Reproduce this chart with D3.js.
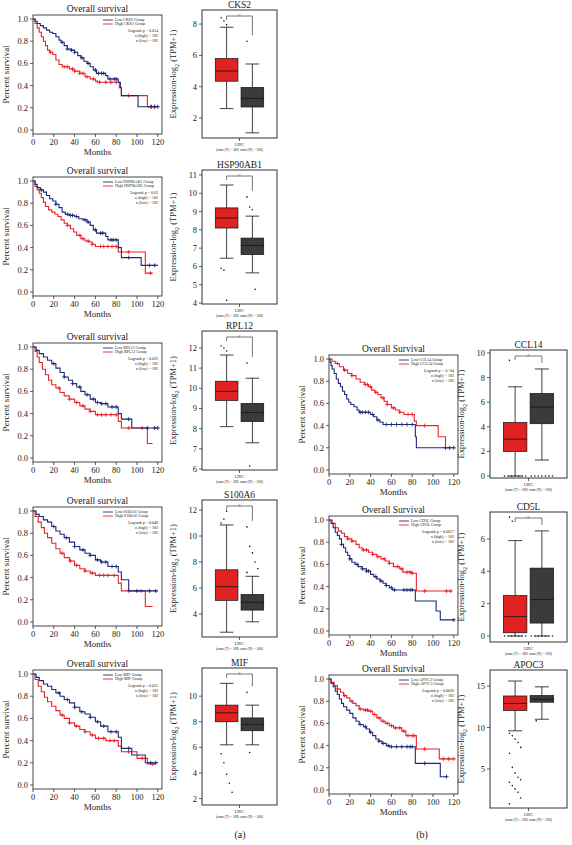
<!DOCTYPE html>
<html><head><meta charset="utf-8">
<script src="https://cdn.jsdelivr.net/npm/d3@7"></script>
<style>body{margin:0;background:#fff}svg{display:block}text{font-family:"Liberation Serif","Times New Roman",serif;fill:#222}</style>
</head><body><div id="chart"></div>
<script>
// ---------- DATA ----------
const kmGenes = ["CKS2","HSP90AB1","RPL12","S100A6","MIF","CCL14","CD5L","APOC3"];
const kmPvals = ["0.014","0.03","0.026","0.048","0.031","1e-04","0.0017","0.0026"];
const kmNHigh = [182,182,182,182,182,182,182,182];
const kmNLow  = [182,182,182,182,182,182,182,182];
const kmTitles = ["Overall survival","Overall survival","Overall survival","Overall survival","Overall survival","Overall Survival","Overall Survival","Overall Survival"];
// [month, survival after step]
const lowCKS2 = [[0,1],[2,0.98],[4,0.96],[7,0.94],[10,0.92],[13,0.9],[16,0.88],[19,0.87],[22,0.84],[25,0.81],[27,0.79],[30,0.76],[33,0.73],[36,0.72],[40,0.70],[43,0.67],[46,0.65],[49,0.62],[52,0.6],[55,0.57],[58,0.54],[61,0.51],[70,0.49],[72,0.46],[82,0.43],[84,0.38],[85,0.31],[101,0.21],[120,0.21]];
const highCKS2 = [[0,1],[2,0.96],[4,0.92],[6,0.88],[8,0.84],[10,0.80],[12,0.76],[14,0.72],[16,0.70],[19,0.68],[22,0.63],[25,0.59],[28,0.57],[35,0.55],[40,0.53],[45,0.51],[50,0.48],[55,0.46],[60,0.44],[62,0.43],[83,0.38],[85,0.31],[110,0.21],[120,0.21]];
const lowCensCKS2 = [28,33,37,40,47,53,60,63,66,68,74,78,80,114,117,120];
const highCensCKS2 = [17,30,33,38,40,45,48,52,58,64,70,75,80,92,113,117];
const lowHSP = [[0,1],[2,0.97],[4,0.94],[7,0.92],[10,0.9],[13,0.87],[16,0.84],[19,0.82],[22,0.79],[25,0.76],[28,0.72],[31,0.70],[35,0.69],[40,0.68],[44,0.66],[48,0.65],[52,0.63],[55,0.6],[58,0.56],[61,0.53],[70,0.50],[72,0.47],[82,0.40],[85,0.31],[104,0.24],[120,0.24]];
const highHSP = [[0,1],[2,0.95],[4,0.92],[6,0.89],[8,0.85],[10,0.81],[12,0.77],[15,0.74],[18,0.72],[21,0.70],[24,0.68],[27,0.65],[30,0.62],[33,0.60],[36,0.57],[39,0.54],[42,0.51],[46,0.48],[50,0.46],[54,0.45],[57,0.43],[60,0.41],[82,0.36],[108,0.17],[115,0.17]];
const lowCensHSP = [8,22,33,36,38,42,50,53,60,65,67,75,77,80,92,112,117];
const highCensHSP = [33,45,48,53,57,65,68,72,76,80,92,113];
const lowRPL = [[0,1],[3,0.97],[6,0.94],[10,0.91],[14,0.88],[18,0.85],[22,0.81],[26,0.77],[30,0.73],[34,0.70],[38,0.67],[42,0.64],[46,0.6],[50,0.57],[55,0.53],[60,0.5],[65,0.49],[72,0.46],[82,0.4],[85,0.35],[95,0.27],[120,0.27]];
const highRPL = [[0,1],[2,0.96],[4,0.91],[6,0.86],[9,0.8],[12,0.75],[15,0.7],[18,0.66],[22,0.63],[26,0.59],[30,0.56],[35,0.53],[40,0.5],[45,0.47],[50,0.44],[55,0.42],[60,0.39],[82,0.33],[85,0.27],[110,0.13],[115,0.13]];
const lowCensRPL = [20,30,38,45,52,58,62,66,70,76,80,92,110,117,120];
const highCensRPL = [25,35,42,48,55,62,66,70,75,80,92,105];
const lowS100 = [[0,1],[3,0.97],[6,0.95],[10,0.92],[14,0.9],[18,0.86],[22,0.82],[26,0.79],[30,0.76],[35,0.72],[40,0.68],[45,0.65],[50,0.62],[55,0.6],[60,0.56],[65,0.54],[72,0.5],[82,0.45],[85,0.38],[92,0.28],[120,0.28]];
const highS100 = [[0,1],[2,0.95],[5,0.9],[8,0.85],[11,0.8],[14,0.76],[18,0.71],[22,0.66],[26,0.62],[30,0.58],[35,0.55],[40,0.51],[45,0.48],[50,0.46],[55,0.44],[60,0.42],[82,0.35],[85,0.28],[108,0.14],[115,0.14]];
const lowCensS100 = [20,32,40,48,55,62,66,70,76,80,100,112,118];
const highCensS100 = [28,36,42,50,57,64,68,72,78,92,104];
const lowMIF = [[0,1],[3,0.97],[6,0.94],[10,0.91],[14,0.89],[18,0.86],[22,0.83],[26,0.8],[30,0.77],[35,0.74],[40,0.7],[45,0.66],[50,0.64],[55,0.61],[60,0.57],[65,0.53],[72,0.48],[82,0.43],[85,0.33],[95,0.27],[108,0.2],[120,0.2]];
const highMIF = [[0,1],[2,0.95],[5,0.89],[8,0.84],[11,0.79],[14,0.75],[18,0.71],[22,0.67],[26,0.63],[30,0.6],[35,0.56],[40,0.53],[45,0.5],[50,0.48],[55,0.45],[60,0.42],[70,0.4],[82,0.35],[85,0.3],[100,0.24],[110,0.19],[118,0.19]];
const lowCensMIF = [25,33,40,47,55,62,68,75,80,92,113,118];
const highCensMIF = [28,35,42,50,57,63,68,74,78,92,105,115];
const lowCCL = [[0,1],[1,0.97],[2,0.94],[3,0.91],[5,0.87],[7,0.82],[9,0.78],[11,0.75],[13,0.71],[15,0.68],[17,0.64],[19,0.61],[21,0.59],[24,0.57],[27,0.54],[29,0.52],[40,0.50],[43,0.48],[46,0.45],[49,0.43],[52,0.41],[83,0.3],[84,0.2],[120,0.2]];
const highCCL = [[0,1],[3,0.98],[6,0.96],[10,0.93],[14,0.9],[18,0.87],[22,0.85],[26,0.82],[30,0.79],[34,0.77],[38,0.75],[41,0.72],[44,0.7],[47,0.68],[50,0.65],[53,0.62],[56,0.59],[60,0.56],[64,0.54],[68,0.52],[72,0.5],[82,0.44],[84,0.4],[105,0.3],[112,0.2],[114,0.2]];
const lowCensCCL = [30,32,35,38,42,47,55,60,65,70,75,80,112,116,120];
const highCensCCL = [8,15,22,35,37,40,45,52,56,62,68,76,80,92];
const lowCD5L = [[0,1],[2,0.97],[4,0.93],[6,0.89],[8,0.86],[10,0.83],[12,0.78],[14,0.75],[16,0.71],[18,0.68],[20,0.65],[22,0.62],[25,0.6],[28,0.58],[32,0.56],[36,0.54],[40,0.51],[43,0.49],[46,0.47],[49,0.45],[52,0.43],[55,0.41],[58,0.39],[61,0.37],[83,0.27],[103,0.18],[107,0.1],[120,0.1]];
const highCD5L = [[0,1],[3,0.97],[6,0.93],[9,0.9],[12,0.88],[15,0.85],[18,0.83],[22,0.81],[26,0.78],[29,0.75],[32,0.73],[38,0.71],[42,0.69],[46,0.67],[50,0.65],[54,0.63],[58,0.61],[62,0.58],[68,0.56],[71,0.53],[80,0.52],[84,0.36],[118,0.36]];
const lowCensCD5L = [12,20,27,32,36,38,45,50,55,60,63,72,75,78,80,120];
const highCensCD5L = [18,22,33,36,42,47,53,58,66,70,75,78,80,92,113,117];
const lowAPOC = [[0,1],[2,0.96],[4,0.93],[6,0.89],[8,0.86],[10,0.82],[12,0.78],[14,0.75],[17,0.72],[20,0.69],[23,0.65],[26,0.62],[29,0.59],[33,0.57],[36,0.55],[39,0.52],[42,0.49],[45,0.46],[48,0.44],[51,0.42],[55,0.4],[58,0.39],[83,0.24],[107,0.12],[113,0.12]];
const highAPOC = [[0,1],[2,0.97],[5,0.94],[8,0.91],[11,0.88],[14,0.85],[17,0.83],[20,0.8],[23,0.78],[26,0.76],[29,0.73],[33,0.72],[38,0.71],[42,0.68],[46,0.65],[50,0.62],[54,0.6],[58,0.58],[62,0.56],[70,0.53],[74,0.49],[84,0.37],[106,0.28],[120,0.28]];
const lowCensAPOC = [30,35,40,48,52,57,60,65,70,75,78,80,92,113];
const highCensAPOC = [8,15,22,30,35,37,40,44,48,52,56,60,64,68,72,76,80,82,92,110,115,120];
const kmLow = [lowCKS2,lowHSP,lowRPL,lowS100,lowMIF,lowCCL,lowCD5L,lowAPOC];
const kmHigh = [highCKS2,highHSP,highRPL,highS100,highMIF,highCCL,highCD5L,highAPOC];
const kmLowCens = [lowCensCKS2,lowCensHSP,lowCensRPL,lowCensS100,lowCensMIF,lowCensCCL,lowCensCD5L,lowCensAPOC];
const kmHighCens = [highCensCKS2,highCensHSP,highCensRPL,highCensS100,highCensMIF,highCensCCL,highCensCD5L,highCensAPOC];
const kmXTicks = [0,20,40,60,80,100,120];
const kmYTicks = [0,0.2,0.4,0.6,0.8,1.0];

// Box plots: [lower whisker, Q1, median, Q3, upper whisker]
const boxGenes = ["CKS2","HSP90AB1","RPL12","S100A6","MIF","CCL14","CD5L","APOC3"];
const tumorStats = [[2.6,4.35,5.0,5.8,7.8],[6.45,8.1,8.65,9.2,10.45],[8.1,9.4,9.85,10.35,11.65],[2.6,5.05,6.1,7.4,10.85],[6.2,8.0,8.7,9.3,11.0],[0,2.0,3.0,4.35,7.25],[0,0.2,1.2,2.5,5.9],[9.6,12.05,12.9,13.8,15.6]];
const normalStats = [[1.05,2.7,3.25,3.95,5.45],[5.65,6.65,7.15,7.55,8.75],[7.3,8.35,8.8,9.25,10.5],[3.4,4.3,4.9,5.5,6.9],[6.2,7.3,7.8,8.3,9.3],[1.3,4.25,5.6,6.7,8.7],[0,0.8,2.25,4.2,6.5],[11.0,13.05,13.4,13.85,14.9]];
const tumorOutliers = [[8.4,8.2,7.95],[5.9,5.8,4.15],[12.1,12.0,11.85],[11.0,11.3,11.9],[5.5,4.8,3.9,3.2,2.5],[9.4,0,0,0,0,0,0,0],[7.35,7.1,0,0,0,0,0,0,0],[9.3,9.0,8.6,8.2,7.6,6.9,5.2,4.5,4.0,3.7,3.4,3.0,2.6,2.2,1.5,0.8]];
const normalOutliers = [[6.9],[9.8,9.25,9.1,4.75],[11.25,6.15],[10.7,9.2,8.7,8.0,7.5,7.2],[10.3,5.6],[0,0,0,0,0,0,0],[0,0,0,0,0,0,0],[10.8]];
const boxDomains = [[0.72,8.9],[3.95,11.27],[5.95,12.84],[2.23,12.77],[1.5,12.2],[-0.16,10.24],[-0.37,7.67],[0.3,16.93]];
const boxTicks = [[2,4,6,8],[4,5,6,7,8,9,10,11],[6,7,8,9,10,11,12],[4,6,8,10,12],[2,4,6,8,10],[0,2,4,6,8,10],[0,2,4,6],[5,10,15]];
const boxSignificant = [true,true,true,true,true,true,true,false];
const boxCategory = "LIHC";
const boxCountText = "(num (T) = 369; num (N) = 160)";

// ---------- LAYOUT ----------
const W = 572, H = 845;
const kmX0 = [33,33,33,33,33,329,329,329];
const kmY1 = [19,181,347,511,674,359,520,679];
const kmPPM = 1.04, kmH = 111;
const boxFrameX = [[202,277],[202,277],[202,277],[202,277],[202,277],[490,567],[490,567],[490,567]];
const boxFrameY = [[10,138],[170,304],[331,470],[500,637],[668,805],[350,478],[512,642],[670,808]];

const BLUE = "#1e2a78", RED = "#e8242b";
const svg = d3.select("#chart").append("svg").attr("width",W).attr("height",H);
svg.append("rect").attr("width",W).attr("height",H).attr("fill","#fff");

function stepAt(steps,t){let s=1;for(const [tt,v] of steps){if(tt<=t)s=v;else break;}return s;}

kmGenes.forEach((g,i)=>{
  const x0 = kmX0[i], y1 = kmY1[i];
  const x = d3.scaleLinear().domain([0,120]).range([x0,x0+120*kmPPM]);
  const y = d3.scaleLinear().domain([0,1]).range([y1+kmH,y1]);
  const fL = x0, fR = x(124), fT = y1-4, fB = y1+kmH+4;
  const gp = svg.append("g");
  gp.append("rect").attr("x",fL).attr("y",fT).attr("width",fR-fL).attr("height",fB-fT).attr("fill","none").attr("stroke","#333").attr("stroke-width",0.9);
  kmYTicks.forEach(v=>{
    gp.append("line").attr("x1",fL-3).attr("x2",fL).attr("y1",y(v)).attr("y2",y(v)).attr("stroke","#333").attr("stroke-width",0.8);
    gp.append("text").attr("x",fL-5).attr("y",y(v)+3).attr("text-anchor","end").attr("font-size",8.5).text(d3.format(".1f")(v));
  });
  kmXTicks.forEach(v=>{
    gp.append("line").attr("x1",x(v)).attr("x2",x(v)).attr("y1",fB).attr("y2",fB+3).attr("stroke","#333").attr("stroke-width",0.8);
    gp.append("text").attr("x",x(v)).attr("y",fB+11).attr("text-anchor","middle").attr("font-size",8.5).text(v);
  });
  gp.append("text").attr("x",(fL+fR)/2).attr("y",fB+21).attr("text-anchor","middle").attr("font-size",9).text("Months");
  gp.append("text").attr("x",(fL+fR)/2).attr("y",fT-3).attr("text-anchor","middle").attr("font-size",9.5).text(kmTitles[i]);
  gp.append("text").attr("transform",`translate(${x0-24},${(fT+fB)/2}) rotate(-90)`).attr("text-anchor","middle").attr("font-size",9).text("Percent survival");
  const line = d3.line().x(d=>x(d[0])).y(d=>y(d[1])).curve(d3.curveStepAfter);
  [[kmHigh[i],kmHighCens[i],RED],[kmLow[i],kmLowCens[i],BLUE]].forEach(([steps,cens,col])=>{
    gp.append("path").attr("d",line(steps)).attr("fill","none").attr("stroke",col).attr("stroke-width",1.1);
    cens.forEach(t=>{
      const cx=x(t), cy=y(stepAt(steps,t));
      gp.append("path").attr("d",`M${cx-2},${cy}H${cx+2}M${cx},${cy-2}V${cy+2}`).attr("stroke",col).attr("stroke-width",0.9);
    });
  });
  const lx = fR-47, lf = 4;
  [[`Low ${g} Group`,BLUE,y1+1],[`High ${g} Group`,RED,y1+5]].forEach(([t,c,yy])=>{
    gp.append("line").attr("x1",lx-12).attr("x2",lx-2).attr("y1",yy).attr("y2",yy).attr("stroke",c).attr("stroke-width",0.9);
    gp.append("text").attr("x",lx).attr("y",yy+1.4).attr("font-size",lf).text(t);
  });
  [[`Logrank p = ${kmPvals[i]}`,y1+13],[`n (high) = ${kmNHigh[i]}`,y1+18],[`n (low) = ${kmNLow[i]}`,y1+23]].forEach(([t,yy])=>{
    gp.append("text").attr("x",fR-4).attr("y",yy).attr("text-anchor","end").attr("font-size",lf).text(t);
  });
});

boxGenes.forEach((g,i)=>{
  const [fL,fR] = boxFrameX[i], [fT,fB] = boxFrameY[i];
  const y = d3.scaleLinear().domain(boxDomains[i]).range([fB,fT]);
  const x = d3.scaleBand().domain(["T","N"]).range([fL+12,fR-12]).paddingInner(0.12).paddingOuter(0.05);
  const gp = svg.append("g");
  gp.append("rect").attr("x",fL).attr("y",fT).attr("width",fR-fL).attr("height",fB-fT).attr("fill","none").attr("stroke","#333").attr("stroke-width",1);
  boxTicks[i].forEach(v=>{
    gp.append("line").attr("x1",fL-3).attr("x2",fL).attr("y1",y(v)).attr("y2",y(v)).attr("stroke","#333").attr("stroke-width",0.8);
    gp.append("text").attr("x",fL-5).attr("y",y(v)+3).attr("text-anchor","end").attr("font-size",8.5).text(v);
  });
  const cx=(fL+fR)/2;
  gp.append("line").attr("x1",cx).attr("x2",cx).attr("y1",fB).attr("y2",fB+3).attr("stroke","#333").attr("stroke-width",0.8);
  gp.append("text").attr("x",cx).attr("y",fB+8).attr("text-anchor","middle").attr("font-size",4).text(boxCategory);
  gp.append("text").attr("x",cx).attr("y",fB+13).attr("text-anchor","middle").attr("font-size",3.6).text(boxCountText);
  gp.append("text").attr("x",cx).attr("y",fT-2).attr("text-anchor","middle").attr("font-size",9.5).text(g);
  const yl = gp.append("text").attr("transform",`translate(${fL-26},${(fT+fB)/2}) rotate(-90)`).attr("text-anchor","middle").attr("font-size",8.5);
  yl.append("tspan").text("Expression-log");
  yl.append("tspan").attr("font-size",6).attr("dy",2.5).text("2");
  yl.append("tspan").attr("dy",-2.5).text(" (TPM+1)");
  [["T",tumorStats[i],tumorOutliers[i],"#e02222"],["N",normalStats[i],normalOutliers[i],"#3b3b3b"]].forEach(([k,s,outs,fill])=>{
    const bx=x(k), bw=x.bandwidth(), mx=bx+bw/2;
    gp.append("line").attr("x1",mx).attr("x2",mx).attr("y1",y(s[0])).attr("y2",y(s[4])).attr("stroke","#111").attr("stroke-width",0.8);
    [s[0],s[4]].forEach(v=>gp.append("line").attr("x1",mx-bw*0.3).attr("x2",mx+bw*0.3).attr("y1",y(v)).attr("y2",y(v)).attr("stroke","#111").attr("stroke-width",0.8));
    gp.append("rect").attr("x",bx).attr("y",y(s[3])).attr("width",bw).attr("height",y(s[1])-y(s[3])).attr("fill",fill).attr("stroke","#111").attr("stroke-width",0.7);
    gp.append("line").attr("x1",bx).attr("x2",bx+bw).attr("y1",y(s[2])).attr("y2",y(s[2])).attr("stroke","#111").attr("stroke-width",0.8);
    const zeros = outs.filter(v=>v===0).length;
    let zi = 0;
    outs.forEach((v,j)=>{
      let off;
      if(v===0){ off = (zeros>1 ? (zi/(zeros-1)-0.5) : 0)*bw*0.9; zi++; }
      else off = ((j%5)-2)*bw*0.12;
      gp.append("circle").attr("cx",mx+off).attr("cy",y(v)).attr("r",0.8).attr("fill","#111");
    });
  });
  if(boxSignificant[i]){
    const mT=x("T")+x.bandwidth()/2, mN=x("N")+x.bandwidth()/2;
    const by=fT+6;
    const maxN = d3.max([normalStats[i][4],...normalOutliers[i]]);
    const endN = Math.max(by+4, y(maxN)-6);
    gp.append("path").attr("d",`M${mT},${by+4}V${by}H${mN}V${endN}`).attr("fill","none").attr("stroke","#555").attr("stroke-width",0.8);
    gp.append("text").attr("x",(mT+mN)/2).attr("y",by+4).attr("text-anchor","middle").attr("font-size",8).style("fill","#f07070").text("*");
  }
});

svg.append("text").attr("x",240).attr("y",838).attr("text-anchor","middle").attr("font-size",10).text("(a)");
svg.append("text").attr("x",422).attr("y",838).attr("text-anchor","middle").attr("font-size",10).text("(b)");
</script></body></html>
